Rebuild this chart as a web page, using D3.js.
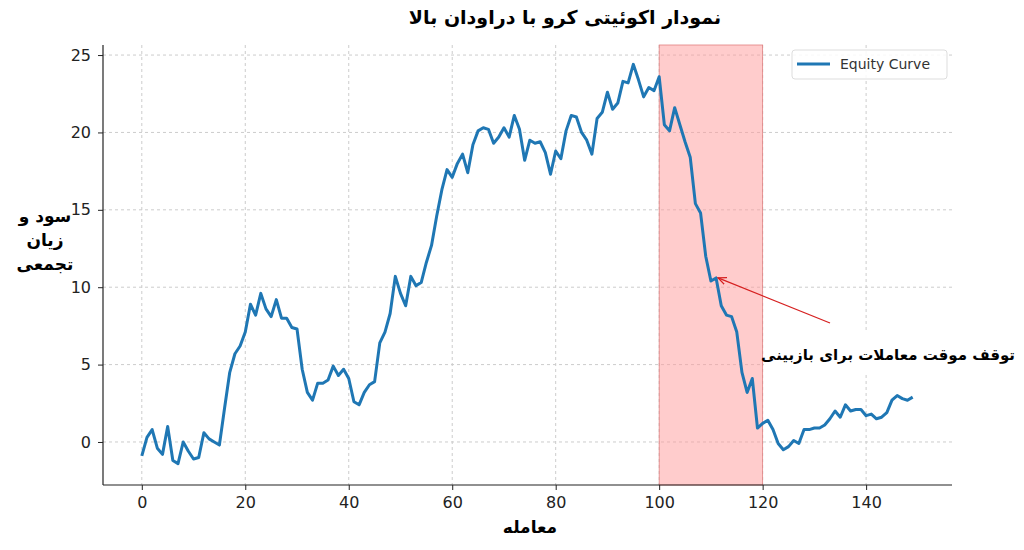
<!DOCTYPE html>
<html><head><meta charset="utf-8">
<script src="https://cdn.jsdelivr.net/npm/d3@7"></script>
<style>body{margin:0;background:#fff}svg{font-family:"DejaVu Sans",sans-serif}</style>
</head><body><svg id="c" width="1024" height="550"></svg>
<script>
// equity values, trade 0..149
var equity = [-0.9,0.3,0.8,-0.4,-0.8,1.0,-1.2,-1.4,0.0,-0.6,-1.1,-1.0,0.6,0.2,0.0,-0.2,2.2,4.5,5.7,6.2,
  7.1,8.9,8.2,9.6,8.6,8.1,9.2,8.0,8.0,7.4,7.3,4.7,3.2,2.7,3.8,3.8,4.0,4.9,4.3,4.7,
  4.1,2.6,2.4,3.2,3.7,3.9,6.4,7.1,8.3,10.7,9.6,8.8,10.7,10.1,10.3,11.6,12.7,14.6,16.3,17.6,
  17.1,18.0,18.6,17.4,19.2,20.1,20.3,20.2,19.3,19.7,20.3,19.7,21.1,20.2,18.2,19.5,19.3,19.4,18.7,17.3,
  18.8,18.3,20.1,21.1,21.0,20.0,19.5,18.6,20.9,21.3,22.6,21.5,21.9,23.3,23.2,24.4,23.4,22.3,22.9,22.7,
  23.6,20.5,20.1,21.6,20.5,19.4,18.4,15.4,14.8,12.0,10.4,10.6,8.8,8.2,8.1,7.1,4.5,3.2,4.1,0.9,
  1.2,1.4,0.8,-0.1,-0.5,-0.3,0.1,-0.1,0.8,0.8,0.9,0.9,1.1,1.5,2.0,1.6,2.4,2.0,2.1,2.1,
  1.7,1.8,1.5,1.6,1.9,2.7,3.0,2.8,2.7,2.9];
var pauseRange = [100, 120];
var xTicks = [0, 20, 40, 60, 80, 100, 120, 140];
var yTicks = [0, 5, 10, 15, 20, 25];
var arrowAt = 111;

var svg = d3.select('#c');
var L = 103, R = 952, T = 45, B = 485;
var x = d3.scaleLinear().domain([-7.5, 156.6]).range([L, R]);
var y = d3.scaleLinear().domain([-2.78, 25.65]).range([B, T]);

// grid
svg.append('g').selectAll('line').data(xTicks).join('line')
  .attr('x1', d => x(d)).attr('x2', d => x(d)).attr('y1', T).attr('y2', B)
  .attr('stroke', '#ccc').attr('stroke-dasharray', '3,3');
svg.append('g').selectAll('line').data(yTicks).join('line')
  .attr('y1', d => y(d)).attr('y2', d => y(d)).attr('x1', L).attr('x2', R)
  .attr('stroke', '#ccc').attr('stroke-dasharray', '3,3');

// pause span
svg.append('rect').attr('x', x(pauseRange[0])).attr('width', x(pauseRange[1]) - x(pauseRange[0]))
  .attr('y', T).attr('height', B - T).attr('fill', '#ff9999').attr('fill-opacity', 0.5)
  .attr('stroke', '#e08080').attr('stroke-width', 0.8);

// line
svg.append('path').datum(equity)
  .attr('d', d3.line().x((d, i) => x(i)).y(d => y(d)))
  .attr('fill', 'none').attr('stroke', '#1f77b4').attr('stroke-width', 3).attr('stroke-linejoin', 'round');

// axes
var gx = svg.append('g').attr('transform', 'translate(0,' + B + ')')
  .call(d3.axisBottom(x).tickValues(xTicks).tickSize(5).tickPadding(7));
var gy = svg.append('g').attr('transform', 'translate(' + L + ',0)')
  .call(d3.axisLeft(y).tickValues(yTicks).tickSize(5).tickPadding(7));
[gx, gy].forEach(g => {
  g.select('.domain').remove();
  g.selectAll('text').attr('font-size', 16).attr('fill', '#222').attr('font-family', 'DejaVu Sans');
  g.selectAll('line').attr('stroke', '#222');
});
svg.append('line').attr('x1', L).attr('x2', R).attr('y1', B).attr('y2', B).attr('stroke', '#222').attr('stroke-width', 1.2);
svg.append('line').attr('x1', L).attr('x2', L).attr('y1', T).attr('y2', B).attr('stroke', '#222').attr('stroke-width', 1.2);

// title & labels
svg.append('text').attr('x', 565).attr('y', 24).attr('text-anchor', 'middle')
  .attr('font-size', 19).attr('font-weight', 'bold')
  .attr('direction', 'rtl').text('نمودار اکوئیتی کرو با دراودان بالا');
svg.append('text').attr('x', 530).attr('y', 533).attr('text-anchor', 'middle')
  .attr('font-size', 17).attr('font-weight', 'bold').attr('direction', 'rtl').text('معامله');
var yl = svg.append('text').attr('text-anchor', 'middle').attr('font-size', 17).attr('font-weight', 'bold').attr('direction', 'rtl');
['سود و', 'زیان', 'تجمعی'].forEach((t, i) => yl.append('tspan').attr('x', 45).attr('y', 222 + i * 24).text(t));

// annotation
svg.append('defs').append('marker').attr('id', 'ah').attr('viewBox', '0 0 10 10').attr('refX', 9).attr('refY', 5)
  .attr('markerWidth', 7).attr('markerHeight', 7).attr('orient', 'auto')
  .append('path').attr('d', 'M0,1 L9,5 L0,9').attr('fill', 'none').attr('stroke', '#d62020').attr('stroke-width', 1.5);
svg.append('line').attr('x1', 830).attr('y1', 323).attr('x2', x(arrowAt) + 2).attr('y2', y(equity[arrowAt]))
  .attr('stroke', '#d62020').attr('stroke-width', 1.3).attr('marker-end', 'url(#ah)');
svg.append('rect').attr('x', 764).attr('y', 333).attr('width', 258).attr('height', 40).attr('fill', '#fff');
svg.append('text').attr('x', 1015).attr('y', 360).attr('text-anchor', 'start').attr('direction', 'rtl')
  .attr('font-size', 15).attr('font-weight', 'bold').text('توقف موقت معاملات برای بازبینی');

// legend
var lg = svg.append('g');
lg.append('rect').attr('x', 792).attr('y', 50).attr('width', 155).attr('height', 29).attr('rx', 3)
  .attr('fill', '#fff').attr('fill-opacity', 0.85).attr('stroke', '#ddd');
lg.append('line').attr('x1', 797).attr('x2', 830).attr('y1', 64).attr('y2', 64).attr('stroke', '#1f77b4').attr('stroke-width', 3);
lg.append('text').attr('x', 840).attr('y', 69).attr('font-size', 14).attr('fill', '#333').text('Equity Curve');
</script></body></html>
